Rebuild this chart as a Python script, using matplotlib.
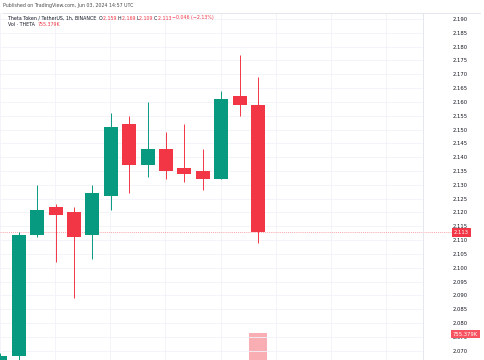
import numpy as np
import matplotlib
matplotlib.use("Agg")
import matplotlib.pyplot as plt

# THETA/USDT 1h candles (the first one is only partly visible at the left edge)
opens = [2.060, 2.068, 2.112, 2.122, 2.120, 2.112, 2.126, 2.152, 2.137, 2.143, 2.136, 2.135, 2.132, 2.162, 2.159]
highs = [2.069, 2.113, 2.130, 2.123, 2.122, 2.130, 2.156, 2.155, 2.160, 2.149, 2.152, 2.143, 2.164, 2.177, 2.169]
lows = [2.055, 2.060, 2.111, 2.102, 2.089, 2.103, 2.121, 2.127, 2.133, 2.132, 2.131, 2.128, 2.132, 2.155, 2.109]
closes = [2.068, 2.112, 2.121, 2.119, 2.111, 2.127, 2.151, 2.137, 2.143, 2.135, 2.134, 2.132, 2.161, 2.159, 2.113]
last_volume = 755379  # only the last volume bar is in view

price_ticks = [2.070, 2.075, 2.080, 2.085, 2.090, 2.095, 2.100, 2.105, 2.110, 2.115, 2.120, 2.125,
               2.130, 2.135, 2.140, 2.145, 2.150, 2.155, 2.160, 2.165, 2.170, 2.175, 2.180, 2.185, 2.190]

GREEN = "#089981"
RED = "#f23645"
GRID = "#f0f3fa"

W, H = 485, 360
fig = plt.figure(figsize=(W / 100, H / 100), dpi=100)
pane_right = 423
top = 13
pos = [0, 0, pane_right / W, (H - top) / H]

# volume overlay (behind the price axes)
vax = fig.add_axes(pos)
ax = fig.add_axes(pos)
ax.patch.set_alpha(0)

x = np.arange(len(opens)) - 1  # index -1 is the cut-off candle

# candles
for i in range(len(opens)):
    o, h, l, c = opens[i], highs[i], lows[i], closes[i]
    col = GREEN if c >= o else RED
    ax.vlines(x[i], l, h, color=col, lw=0.7, zorder=3)
    ax.bar(x[i], c - o, bottom=o, width=0.76, color=col, zorder=4)

# y range from the pixel scale: 2.190 at y=19, 13.82 px per 0.005
px = 0.005 / 13.82
ymax = 2.190 + (19 - top) * px
ymin = 2.190 - (H - 19) * px
ax.set_ylim(ymin, ymax)
xlim = (-18.7 / 18.41, (pane_right - 18.7) / 18.41)
ax.set_xlim(*xlim)

vax.set_xlim(*xlim)
vax.set_ylim(0, last_volume / (26.7 / (H - top)))
vax.bar(x[-1], last_volume, width=0.95, color=RED, alpha=0.4)
vax.axis("off")

# grid
for t in price_ticks:
    ax.axhline(t, color=GRID, lw=0.6, zorder=0)
for g in [-1, 2, 5, 8, 11, 14, 17, 20]:
    ax.axvline(g - 0.03, color=GRID, lw=0.6, zorder=0)

ax.set_xticks([])
ax.yaxis.tick_right()
ax.set_yticks(price_ticks)
ax.set_yticklabels([f"{t:.3f}" for t in price_ticks], fontsize=3.8, color="#131722")
ax.tick_params(axis="y", length=0, pad=21.5)
for s in ["left", "bottom", "top"]:
    ax.spines[s].set_visible(False)
ax.spines["right"].set_color("#e0e3eb")
ax.spines["right"].set_linewidth(0.6)

# last price line + labels
last = closes[-1]
ax.plot([xlim[0], xlim[1] + 1.6], [last, last], color=RED, lw=0.5,
        ls=(0, (1.5, 1.5)), alpha=0.6, clip_on=False, zorder=2)
ax.text(454 / pane_right, (H - 232.5) / (H - top), f"{last:.3f}", transform=ax.transAxes,
        fontsize=3.8, color="white", ha="left", va="center", zorder=10,
        bbox=dict(boxstyle="square,pad=0.35", fc=RED, ec="none"))
fig.text(453 / W, (H - 334.3) / H, "755.379K", fontsize=3.8, color="white", ha="left",
         va="center", zorder=10, bbox=dict(boxstyle="square,pad=0.3", fc="#f7525f", ec="none"))

# frame line at the top
fig.add_artist(plt.Line2D([2 / W, 480 / W], [(H - 12.5) / H] * 2, color="#e0e3eb", lw=0.6))

# header
fig.text(3 / W, (H - 6) / H, "Published on TradingView.com, Jun 03, 2024 14:57 UTC",
         fontsize=3.4, color="#4a4a4a", va="center")

renderer = fig.canvas.get_renderer()


def put_row(xp, yp, parts):
    for s, col in parts:
        t = fig.text(xp / W, (H - yp) / H, s, fontsize=3.4, color=col, va="center")
        xp += t.get_window_extent(renderer).width
    return xp


DARK = "#131722"
put_row(8, 18, [("Theta Token / TetherUS, 1h, BINANCE  ", DARK),
                ("O", DARK), ("2.159 ", RED), ("H", DARK), ("2.169 ", RED),
                ("L", DARK), ("2.109 ", RED), ("C", DARK), ("2.113 ", RED),
                ("\u22120.046 (\u22122.13%)", RED)])
put_row(8, 25, [("Vol \u00b7 THETA  ", DARK), ("755.379K", RED)])

fig.savefig("out.png", dpi=100)
